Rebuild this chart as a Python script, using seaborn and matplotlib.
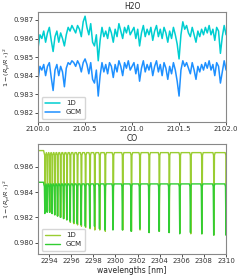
import numpy as np
import pandas as pd
import seaborn as sns
import matplotlib
matplotlib.use("Agg")
import matplotlib.pyplot as plt
from matplotlib.ticker import FormatStrFormatter

# H2O window: transit depth, one sample every 0.02 nm
h2o_wl = np.round(np.arange(2100.0, 2102.0001, 0.02), 2)
h2o_1d = [0.9855, 0.9862, 0.9860, 0.9864, 0.9858, 0.9863, 0.9866, 0.9859, 0.9853, 0.9861,
          0.9864, 0.9858, 0.9863, 0.9860, 0.9856, 0.9862, 0.9866, 0.9864, 0.9867, 0.9865,
          0.9863, 0.9867, 0.9865, 0.9861, 0.9869, 0.9872, 0.9866, 0.9862, 0.9868, 0.9858,
          0.9856, 0.9862, 0.9848, 0.9859, 0.9866, 0.9861, 0.9864, 0.9860, 0.9866, 0.9863,
          0.9858, 0.9865, 0.9861, 0.9868, 0.9864, 0.9860, 0.9866, 0.9863, 0.9867, 0.9862,
          0.9864, 0.9866, 0.9860, 0.9865, 0.9856, 0.9863, 0.9867, 0.9861, 0.9865, 0.9862,
          0.9866, 0.9859, 0.9864, 0.9867, 0.9861, 0.9865, 0.9860, 0.9866, 0.9863, 0.9858,
          0.9864, 0.9860, 0.9866, 0.9862, 0.9857, 0.9849, 0.9862, 0.9869, 0.9865, 0.9867,
          0.9863, 0.9861, 0.9866, 0.9862, 0.9858, 0.9864, 0.9861, 0.9865, 0.9862, 0.9866,
          0.9863, 0.9867, 0.9862, 0.9865, 0.9859, 0.9866, 0.9864, 0.9852, 0.9861, 0.9867,
          0.9862]
h2o_gcm = [0.9838, 0.9845, 0.9843, 0.9846, 0.9840, 0.9845, 0.9847, 0.9839, 0.9832, 0.9843,
           0.9846, 0.9840, 0.9845, 0.9842, 0.9834, 0.9844, 0.9847, 0.9846, 0.9848, 0.9847,
           0.9845, 0.9848, 0.9846, 0.9842, 0.9847, 0.9849, 0.9846, 0.9841, 0.9847, 0.9838,
           0.9836, 0.9843, 0.9829, 0.9840, 0.9847, 0.9842, 0.9846, 0.9841, 0.9847, 0.9845,
           0.9839, 0.9846, 0.9842, 0.9848, 0.9845, 0.9840, 0.9847, 0.9844, 0.9848, 0.9843,
           0.9845, 0.9847, 0.9841, 0.9846, 0.9837, 0.9844, 0.9848, 0.9842, 0.9846, 0.9843,
           0.9847, 0.9840, 0.9845, 0.9848, 0.9842, 0.9846, 0.9840, 0.9847, 0.9844, 0.9838,
           0.9845, 0.9841, 0.9847, 0.9843, 0.9837, 0.9829, 0.9843, 0.9848, 0.9845, 0.9847,
           0.9844, 0.9841, 0.9847, 0.9843, 0.9838, 0.9845, 0.9842, 0.9846, 0.9843, 0.9847,
           0.9844, 0.9848, 0.9843, 0.9846, 0.9840, 0.9847, 0.9845, 0.9836, 0.9842, 0.9848,
           0.9843]

# CO window: line centres and core depths
co_centres = [2293.64, 2293.85, 2294.07, 2294.29, 2294.53, 2294.78, 2295.05, 2295.33,
              2295.62, 2295.92, 2296.24, 2296.57, 2296.92, 2297.30, 2297.70, 2298.13,
              2298.58, 2299.08, 2299.80, 2300.66, 2301.45, 2302.22, 2303.06, 2303.97,
              2304.87, 2305.84, 2306.81, 2307.83, 2308.91, 2310.02]
co_core_1d = [0.9826, 0.9825, 0.9824, 0.9823, 0.9822, 0.9821, 0.9820, 0.9819,
              0.9818, 0.9816, 0.9815, 0.9814, 0.9813, 0.9812, 0.9811, 0.9810,
              0.9810, 0.9809, 0.9811, 0.9810, 0.9809, 0.9810, 0.9808, 0.9809,
              0.9808, 0.9808, 0.9807, 0.9807, 0.9806, 0.9806]
co_core_gcm = [0.9823, 0.9824, 0.9824, 0.9823, 0.9822, 0.9821, 0.9820, 0.9819,
               0.9818, 0.9817, 0.9816, 0.9815, 0.9814, 0.9813, 0.9812, 0.9813,
               0.9811, 0.9810, 0.9810, 0.9810, 0.9809, 0.9811, 0.9808, 0.9809,
               0.9808, 0.9807, 0.9808, 0.9807, 0.9806, 0.9806]
co_cont_1d = 0.98727
co_top_1d = 0.98719
co_cont_gcm = 0.98477
co_top_gcm = 0.98472
co_shift_gcm = -0.03


def co_trace(cores, cont, top, shift):
    """polyline: continuum, then for every line shoulder - core - shoulder"""
    wl = [2293.0, 2293.50]
    fl = [cont, cont]
    for c, d in zip(co_centres, cores):
        c = c + shift
        wl += [c - 0.10, c - 0.04, c, c + 0.04, c + 0.10]
        fl += [top - 0.00008, top - 0.00030, d, top - 0.00030, top - 0.00008]
    return pd.DataFrame({"wl": wl, "fl": fl})


co_1d = co_trace(co_core_1d, co_cont_1d, co_top_1d, 0.0)
co_gcm = co_trace(co_core_gcm, co_cont_gcm, co_top_gcm, co_shift_gcm)

sns.set_theme(style="ticks")
plt.rcParams["font.family"] = ["DejaVu Sans"]
plt.rcParams["font.size"] = 5.5

fig = plt.figure(figsize=(2.41, 2.78), dpi=100)
ax1 = fig.add_axes([0.158, 0.561, 0.780, 0.396])
ax2 = fig.add_axes([0.158, 0.086, 0.780, 0.396])

sns.lineplot(x=h2o_wl, y=h2o_1d, ax=ax1, color="darkturquoise", lw=1.1, label="1D", estimator=None)
sns.lineplot(x=h2o_wl, y=h2o_gcm, ax=ax1, color="dodgerblue", lw=1.1, label="GCM", estimator=None)
ax1.set_xlim(2100.0, 2102.0)
ax1.set_ylim(0.98150, 0.98743)
ax1.set_xticks([2100.0, 2100.5, 2101.0, 2101.5, 2102.0])
ax1.set_yticks([0.982, 0.983, 0.984, 0.985, 0.986, 0.987])
ax1.set_title("H2O", fontsize=5.5, pad=2)
ax1.set_xlabel("CO", fontsize=5.5, labelpad=1)

sns.lineplot(data=co_1d, x="wl", y="fl", ax=ax2, color="yellowgreen", lw=1.0, label="1D",
             estimator=None, sort=False)
sns.lineplot(data=co_gcm, x="wl", y="fl", ax=ax2, color="limegreen", lw=1.0, label="GCM",
             estimator=None, sort=False)
ax2.set_xlim(2293.0, 2310.0)
ax2.set_ylim(0.9791, 0.98779)
ax2.set_xticks(range(2294, 2311, 2))
ax2.set_yticks([0.980, 0.982, 0.984, 0.986])
ax2.set_xlabel("wavelengths [nm]", fontsize=5.5, labelpad=1)

for ax in (ax1, ax2):
    ax.yaxis.set_major_formatter(FormatStrFormatter("%.3f"))
    ax.set_ylabel(r"$1-(R_p/R_*)^2$", fontsize=4.6)
    ax.yaxis.set_label_coords(-0.135, 0.5)
    ax.tick_params(axis="both", labelsize=5, length=2, width=0.6, pad=1, colors="#333333")
    for s in ax.spines.values():
        s.set_color("#888888")
        s.set_linewidth(0.8)
    ax.legend(loc="lower left", fontsize=5, handlelength=2.2, borderpad=0.5,
              labelspacing=0.4, frameon=True, framealpha=0.8, edgecolor="#cccccc")

fig.savefig("out.png", dpi=100)
